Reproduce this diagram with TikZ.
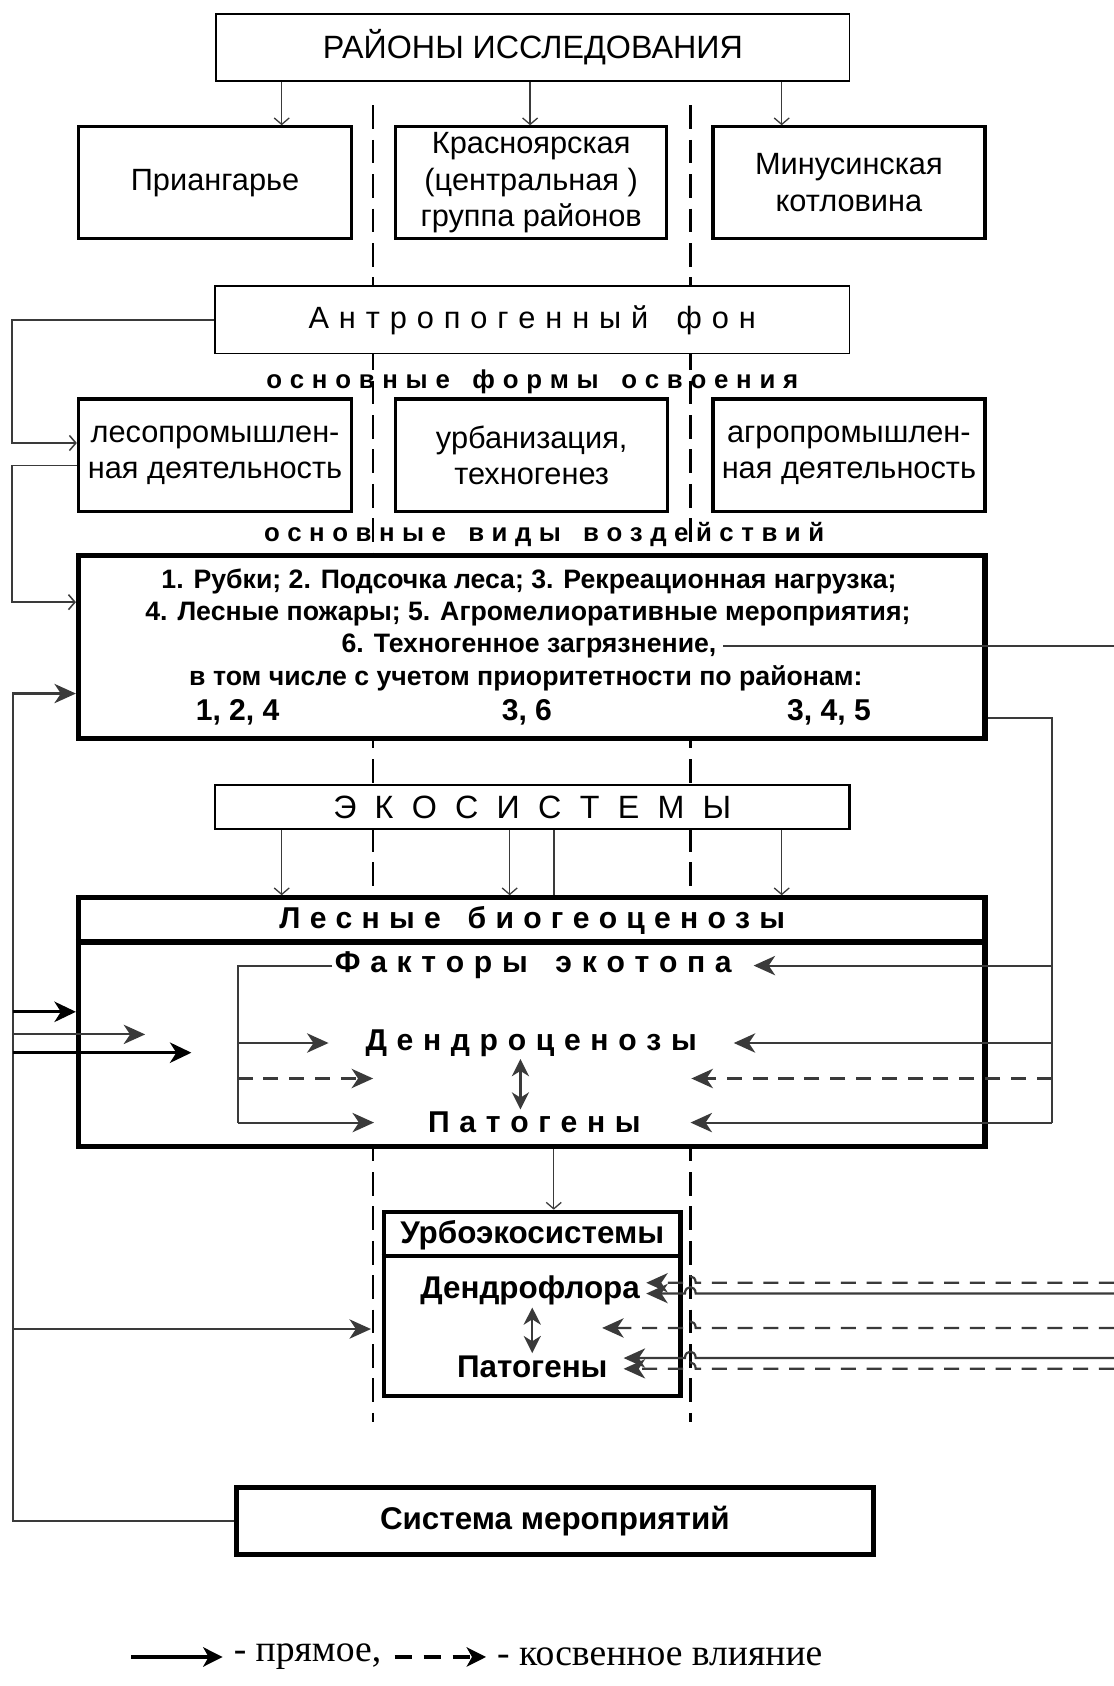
\documentclass[tikz,border=0pt]{standalone}
\usepackage{fontspec}
\setmainfont{Liberation Sans}
\newfontfamily\serifnt{Liberation Serif}
\usetikzlibrary{arrows.meta,calc}
\definecolor{lg}{HTML}{3A3A3A}
\newdimen\lsgap
\def\lsp#1{\lspA#1\relax}
\def\lspA#1{\ifx#1\relax\unskip\else#1\hskip\lsgap\relax\expandafter\lspA\fi}
\newcommand\fTop{\fontsize{15}{18}\selectfont}
\newcommand\fReg{\fontsize{14.3}{17}\selectfont}
\newcommand\fSm{\bfseries\fontsize{12}{14}\selectfont}
\newcommand\fImp{\bfseries\fontsize{12.4}{14}\selectfont}
\newcommand\fNum{\bfseries\fontsize{14}{16}\selectfont}
\newcommand\fSp{\bfseries\fontsize{14}{16}\selectfont}
\newcommand\fUrb{\bfseries\fontsize{14.6}{16}\selectfont}
\newcommand\fLeg{\serifnt\fontsize{17.5}{20}\selectfont}
\tikzset{
  box/.style={draw, fill=white, line width=1.5pt, inner sep=0pt, align=center, font=\fReg},
  txt/.style={inner sep=1pt},
  vdash/.style={line width=1.2pt, dash pattern=on 11pt off 5pt},
  thinarr/.style={draw=lg, line width=0.6pt, -{Straight Barb[length=3pt,width=7pt]}},
  thinconn/.style={draw=lg, line width=0.7pt},
  conn/.style={draw=lg, line width=1pt},
  arr/.style={draw=lg, line width=1pt, -{Stealth[length=10pt,width=9pt,inset=3pt]}},
  darr/.style={draw=lg, line width=1pt, {Stealth[length=8pt,width=8pt,inset=2.5pt]}-{Stealth[length=8pt,width=8pt,inset=2.5pt]}},
  barr/.style={draw=black, line width=1.3pt, -{Stealth[length=10pt,width=9.5pt,inset=3pt]}},
  dsh/.style={dash pattern=on 7pt off 5pt},
}
\begin{document}
\begin{tikzpicture}[x=0.5pt,y=-0.5pt]
\useasboundingbox (0,0) rectangle (1036,1568);
\fill[white] (0,0) rectangle (1036,1568);
% helper coordinates
\coordinate (a1) at (262,0);
\coordinate (a2) at (493,0);
\coordinate (a3) at (727,0);
\coordinate (a4) at (474,0);
\coordinate (a5) at (515,0);
\coordinate (Lx) at (11,0);
\coordinate (Lx2) at (12,0);
\coordinate (bx) at (221,0);
\coordinate (rx) at (978,0);
\coordinate (re) at (1036,0);
% dashed verticals
\coordinate (d1t) at (347,98);
\coordinate (d1b) at (347,1322);
\coordinate (d2t) at (642,98);
\coordinate (d2b) at (642,1322);
\draw[vdash] (d1t) -- (d1b);
\draw[vdash] (d2t) -- (d2b);

% boxes
\node[box, line width=0.8pt, minimum width=294.5pt, minimum height=31pt, font=\fTop] (ray) at (495.5,44) {РАЙОНЫ ИССЛЕДОВАНИЯ};
\node[box, minimum width=127pt, minimum height=52pt] (pri) at (200,170) {Приангарье};
\node[box, minimum width=126pt, minimum height=52pt] (kra) at (494,170) {Красноярская\\(центральная )\\группа районов};
\node[box, minimum width=126.5pt, minimum height=52pt] (min) at (789.5,170) {Минусинская\\котловина};

\node[box, line width=0.6pt, minimum width=295pt, minimum height=31.5pt] (ant) at (495,297.5) {\lsgap=4.6pt\lsp{Антропогенный~фон}};
\node[txt, font=\fSm] (osf) at (495,355) {\lsgap=3.6pt\lsp{основные~формы~освоения}};

\node[box, minimum width=127pt, minimum height=52.5pt] (les) at (200,423.5) {лесопромышлен-\\ная деятельность};
\node[box, minimum width=126.5pt, minimum height=52.5pt] (urz) at (494.5,423.5) {урбанизация,\\техногенез};
\node[box, minimum width=126.5pt, minimum height=52.5pt] (agr) at (789.5,423.5) {агропромышлен-\\ная деятельность};

\node[txt, font=\fSm] (osv) at (506,497) {\lsgap=3.5pt\lsp{основные~виды~воздействий}};

\node[box, line width=2.4pt, minimum width=421.5pt, minimum height=85pt] (imp) at (494.5,602) {};
\node[txt, font=\fImp] (t1) at (492,541) {1. Рубки; 2. Подсочка леса; 3. Рекреационная нагрузка;};
\node[txt, font=\fImp] (t2) at (491,571) {4. Лесные пожары; 5. Агромелиоративные мероприятия;};
\node[txt, font=\fImp, inner sep=3pt] (t3) at (492,601) {6. Техногенное загрязнение,};
\node[txt, font=\fImp] (t4) at (489,631) {в том числе с учетом приоритетности по районам:};
\node[txt, font=\fNum] (n1) at (221,662) {1, 2, 4};
\node[txt, font=\fNum] (n2) at (490,662) {3, 6};
\node[txt, font=\fNum] (n3) at (771,662) {3, 4, 5};

\node[box, line width=1.2pt, minimum width=295pt, minimum height=20.5pt, font=\fTop] (eco) at (495,750.5) {\lsgap=8.5pt\lsp{ЭКОСИСТЕМЫ}};

\node[box, line width=2.4pt, minimum width=421.5pt, minimum height=115.5pt] (for) at (494.5,950.5) {};
\node[txt, font=\fSp] (lbh) at (495,856) {\lsgap=4.3pt\lsp{Лесные~биогеоценозы}};
\coordinate (dv) at (0,876);
\draw[line width=2.4pt] (for.west |- dv) -- (for.east |- dv);
\node[txt, font=\fSp] (fak) at (496,898) {\lsgap=4.5pt\lsp{Факторы~экотопа}};
\node[txt, font=\fSp] (den) at (494,970) {\lsgap=4.5pt\lsp{Дендроценозы}};
\node[txt, font=\fSp] (pat) at (497,1044) {\lsgap=4.5pt\lsp{Патогены}};

\node[box, line width=2pt, minimum width=138pt, minimum height=85.5pt] (urb) at (495,1212.5) {};
\node[txt, font=\fUrb] (ubh) at (495,1149) {Урбоэкосистемы};
\coordinate (dv2) at (0,1168);
\draw[line width=2pt] (urb.west |- dv2) -- (urb.east |- dv2);
\node[txt, font=\fUrb] (udf) at (493,1200) {Дендрофлора};
\node[txt, font=\fUrb] (upt) at (495,1271) {Патогены};

\node[box, line width=2.4pt, minimum width=296pt, minimum height=31.5pt, font=\fUrb] (sys) at (516,1414.5) {Система мероприятий};

% top arrows
\draw[thinarr] (ray.south -| a1) -- (pri.north -| a1);
\draw[thinarr] (ray.south -| a2) -- (kra.north -| a2);
\draw[thinarr] (ray.south -| a3) -- (min.north -| a3);

% left loops from Антропогенный фон and лесопромышленная
\coordinate (y410) at (0,412);
\coordinate (y433) at (0,433);
\coordinate (y560) at (0,560);
\draw[thinconn, -{Straight Barb[length=3pt,width=7pt]}] (ant.west) -- (Lx |- ant.west) -- (Lx |- y410) -- (les.west |- y410);
\draw[thinconn, -{Straight Barb[length=3pt,width=7pt]}] (les.west |- y433) -- (Lx |- y433) -- (Lx |- y560) -- (imp.west |- y560);

% main feedback from Система мероприятий
\coordinate (y645) at (0,645);
\coordinate (y941) at (0,941);
\coordinate (y962) at (0,962);
\coordinate (y979) at (0,979);
\coordinate (y1236) at (0,1236);
\coordinate (e962) at (135,962);
\coordinate (e979) at (178,979);
\coordinate (e1236) at (345,1236);
\draw[arr] (sys.west) -- (Lx2 |- sys.west) -- (Lx2 |- y645) -- (imp.west |- y645);
\draw[barr] (Lx2 |- y941) -- (for.west |- y941);
\draw[arr] (Lx2 |- y962) -- (e962);
\draw[barr] (Lx2 |- y979) -- (e979);
\draw[arr] (Lx2 |- y1236) -- (e1236);

% line from "Техногенное загрязнение"
\draw[conn] (t3.east) -- (t3.east -| re);

% ЭКОСИСТЕМЫ -> Лесные биогеоценозы
\draw[thinarr] (eco.south -| a1) -- (for.north -| a1);
\draw[thinarr] (eco.south -| a4) -- (for.north -| a4);
\draw[thinarr] (eco.south -| a3) -- (for.north -| a3);
\draw[thinconn] (eco.south -| a5) -- (for.north -| a5);
\draw[thinarr] (for.south -| a5) -- (urb.north -| a5);

% inside forest box, left bracket
\coordinate (y1003) at (0,1003);
\coordinate (e1003) at (347,1003);
\draw[conn] (fak.west) -- (bx |- fak.west) -- (bx |- pat);
\draw[arr] (bx |- den) -- ([xshift=-16pt]den.west);
\draw[arr, dsh] (bx |- y1003) -- (e1003);
\draw[arr] (bx |- pat) -- ([xshift=-24pt]pat.west);

% right side
\coordinate (y668) at (0,668);
\coordinate (f1003) at (643,1003);
\draw[conn] (imp.east |- y668) -- (rx |- y668) -- (rx |- pat);
\draw[arr] (rx |- fak) -- ([xshift=9pt]fak.east);
\draw[arr] (rx |- den) -- ([xshift=16pt]den.east);
\draw[arr, dsh] (rx |- y1003) -- (f1003);
\draw[arr] (rx |- pat) -- ([xshift=22pt]pat.east);

% double arrows
\coordinate (da) at (484,0);
\coordinate (db) at (495,0);
\draw[darr] (den.south -| da) -- (pat.north -| da);
\draw[darr] (udf.south -| db) -- (upt.north -| db);

% arrows into Урбоэкосистемы from the right, hopping over the dashed line
\foreach \yy/\xt/\st in {1193/601/dsh, 1203/601/solid, 1235/560/dsh, 1263/580/solid, 1273/580/dsh}{
  \draw[arr, \st] (re |- 0,\yy) -- (647,\yy) .. controls (647,\yy-8) and (637,\yy-8) .. (637,\yy) -- (\xt,\yy);
}

% legend
\node[txt, font=\fLeg, anchor=west, inner sep=5pt] (lg1) at (207,1541) {- прямое,};
\node[txt, font=\fLeg, anchor=west, inner sep=5pt] (lg2) at (452,1541) {- косвенное влияние};
\coordinate (la) at (122,1541);
\coordinate (lb) at (367,1541);
\draw[draw=black, line width=1.5pt, -{Stealth[length=9pt,width=9pt,inset=2.5pt]}] (la) -- (lg1.west);
\draw[draw=black, line width=1.5pt, dash pattern=on 8pt off 5.5pt, -{Stealth[length=9pt,width=9pt,inset=2.5pt]}] (lb) -- (lg2.west);
\end{tikzpicture}
\end{document}
